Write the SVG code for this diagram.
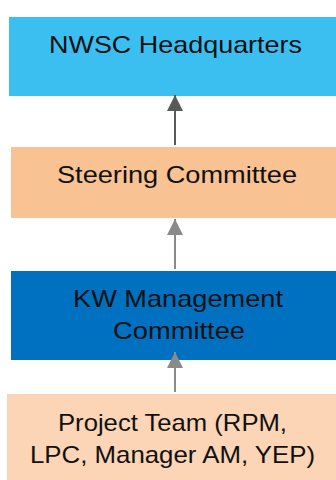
<svg xmlns="http://www.w3.org/2000/svg" width="336" height="480" viewBox="0 0 336 480">
<defs>
<style>
text{font-family:"Liberation Sans",Arial,sans-serif;font-size:24px;fill:#111;text-anchor:middle}
</style>
<marker id="ah1" markerWidth="16" markerHeight="16" viewBox="0 0 16 16" refX="16" refY="8" orient="auto" markerUnits="userSpaceOnUse"><path d="M0,0L16,8L0,16Z" fill="#595959"/></marker>
<marker id="ah2" markerWidth="16" markerHeight="16" viewBox="0 0 16 16" refX="16" refY="8" orient="auto" markerUnits="userSpaceOnUse"><path d="M0,0L16,8L0,16Z" fill="#8a8a8a"/></marker>
</defs>
<rect width="336" height="480" fill="#fff"/>
<g id="hq"><rect x="9" y="17" width="327" height="79" fill="#3bbff1"/><text x="175.5" y="53" textLength="253" lengthAdjust="spacingAndGlyphs">NWSC Headquarters</text></g>
<g id="steering"><rect x="11" y="147" width="325" height="71" fill="#f8c293"/><text x="177" y="183" textLength="240" lengthAdjust="spacingAndGlyphs">Steering Committee</text></g>
<g id="kw"><rect x="11" y="271" width="325" height="89" fill="#0070c0"/><text x="178" y="307" textLength="210" lengthAdjust="spacingAndGlyphs">KW Management</text><text x="179" y="339" textLength="132" lengthAdjust="spacingAndGlyphs">Committee</text></g>
<g id="team"><rect x="7" y="394" width="329" height="86" fill="#fbd5b5"/><text x="172.5" y="431" textLength="229" lengthAdjust="spacingAndGlyphs">Project Team (RPM,</text><text x="172.5" y="463" textLength="285" lengthAdjust="spacingAndGlyphs">LPC, Manager AM, YEP)</text></g>
<g id="connectors">
<line x1="175" y1="145" x2="175" y2="95" stroke="#595959" stroke-width="2" marker-end="url(#ah1)"/>
<line x1="175" y1="269" x2="175" y2="219" stroke="#8a8a8a" stroke-width="2" marker-end="url(#ah2)"/>
<line x1="175" y1="392" x2="175" y2="352" stroke="#8a8a8a" stroke-width="2" marker-end="url(#ah2)"/>
</g>
</svg>
